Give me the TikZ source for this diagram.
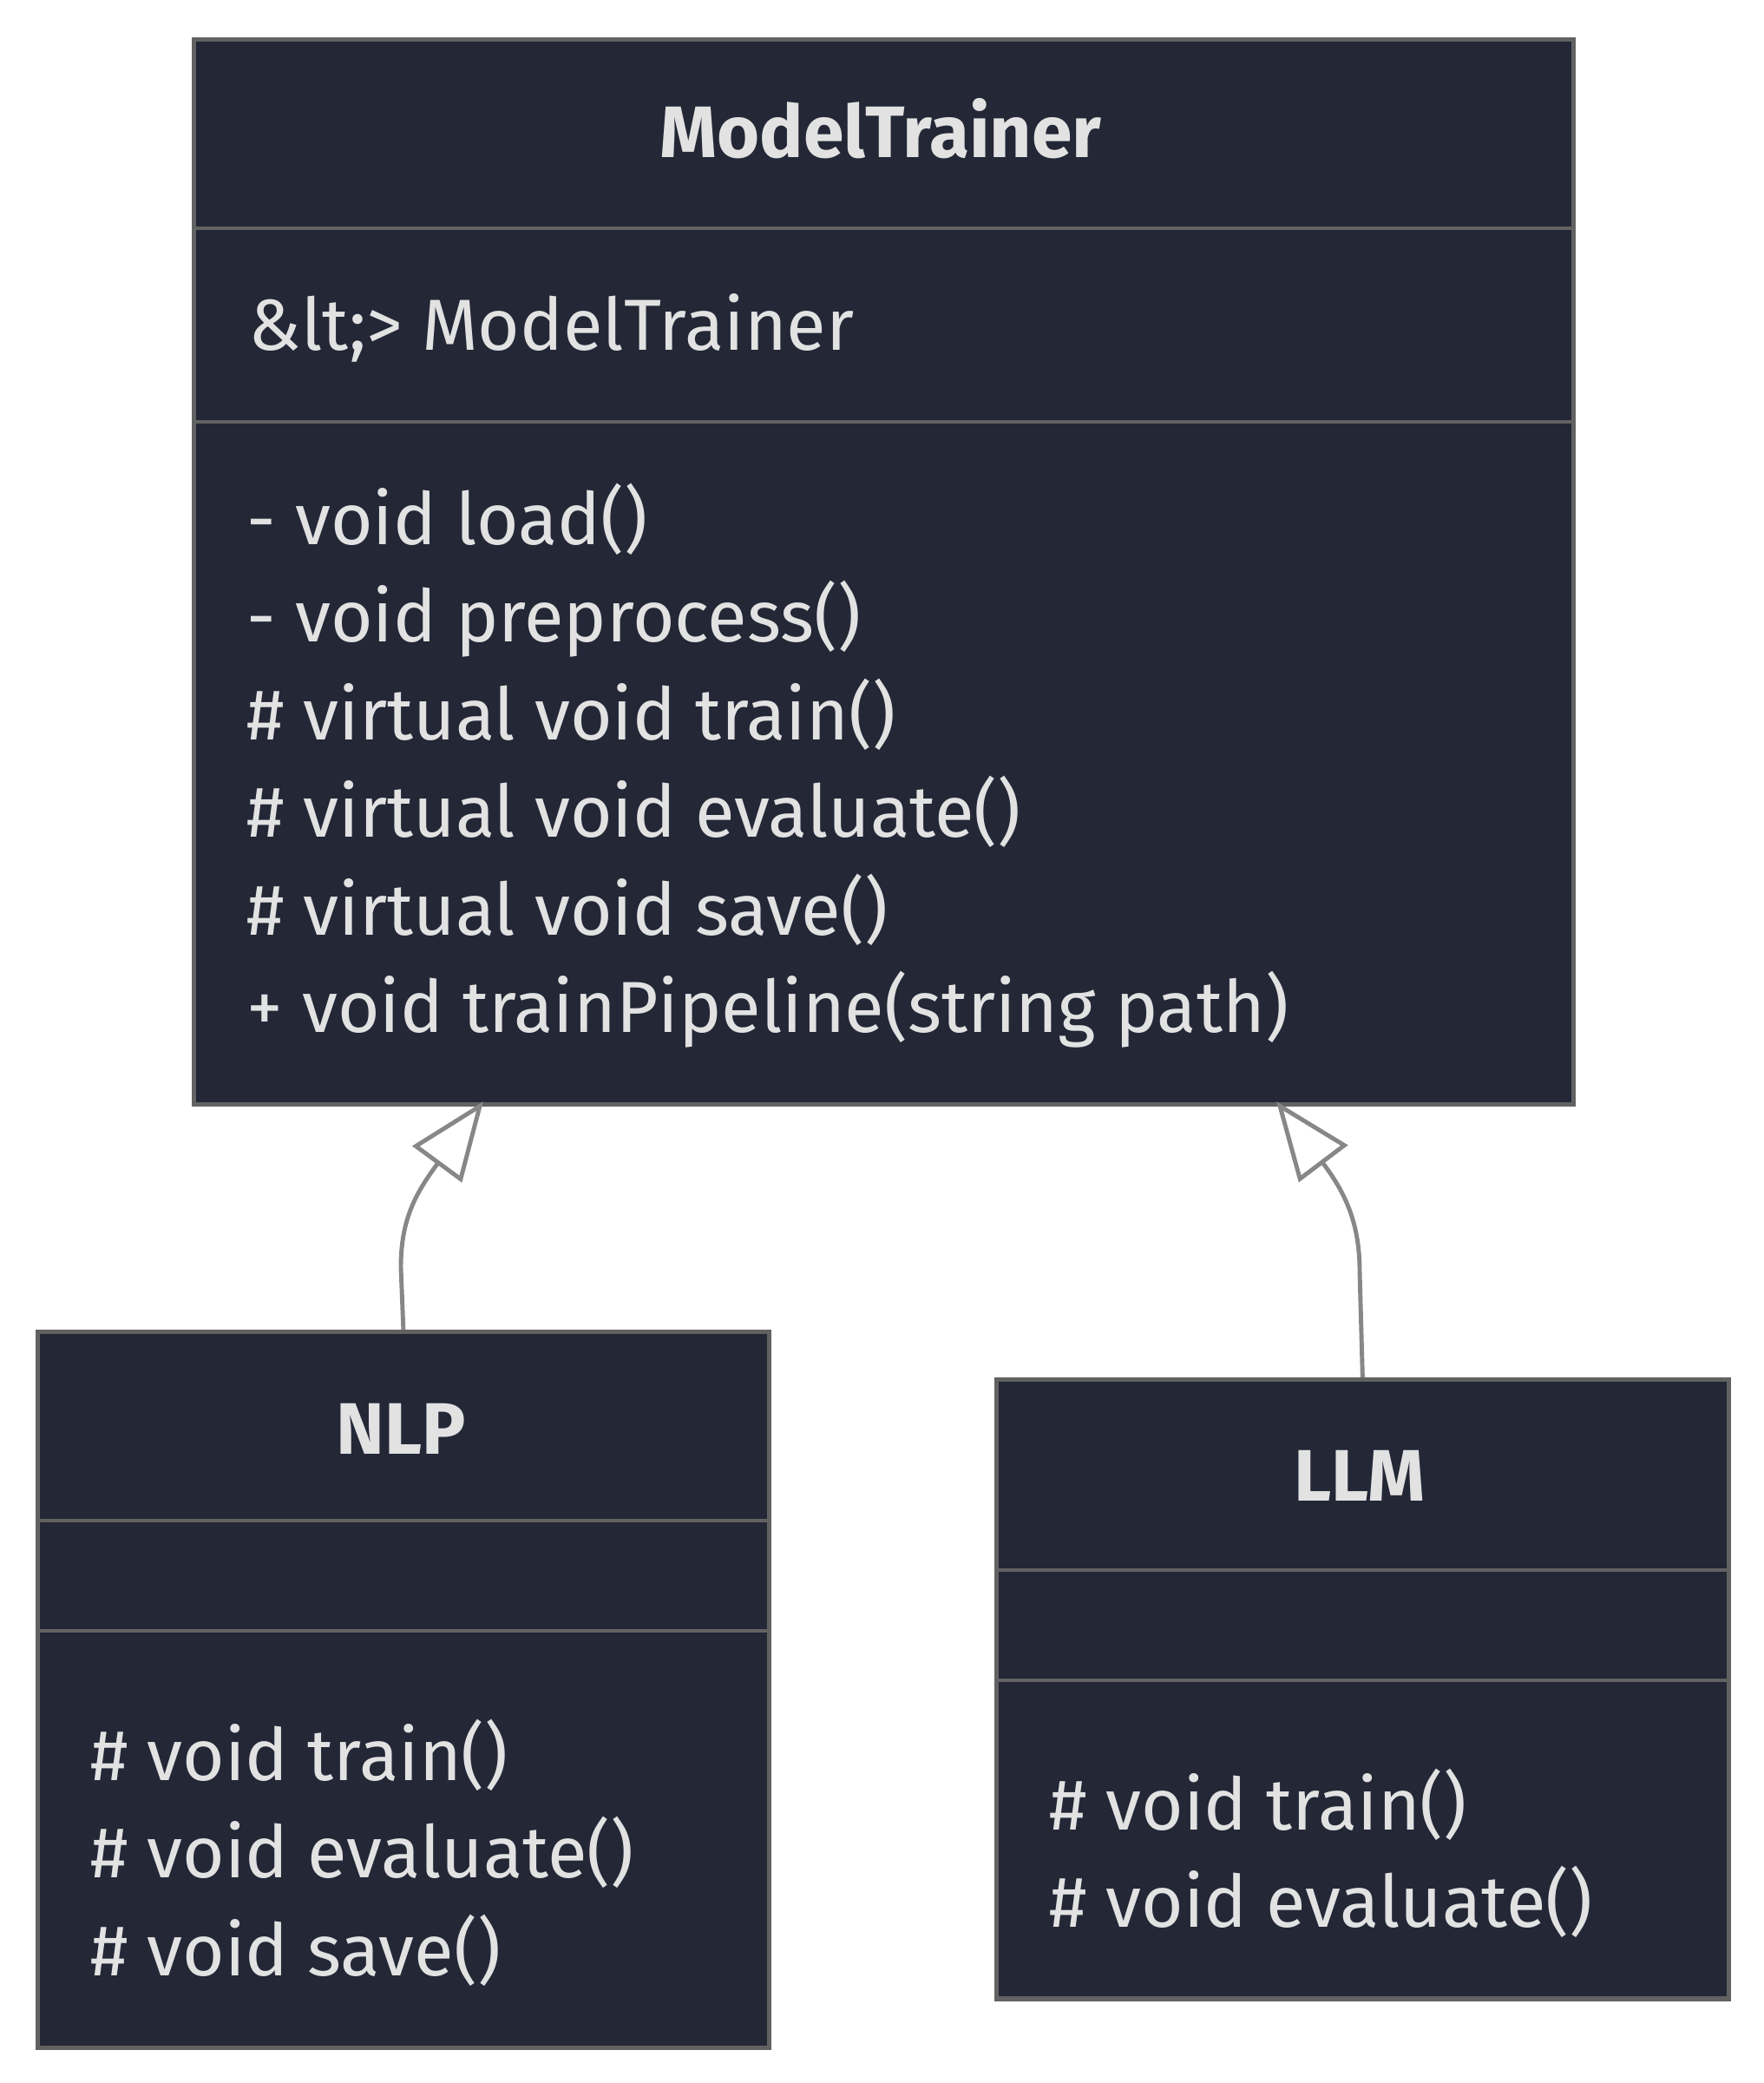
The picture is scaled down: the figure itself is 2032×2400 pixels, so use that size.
\documentclass[tikz,border=0pt]{standalone}
\usepackage{fontspec}
\setmainfont{Fira Sans}
\usetikzlibrary{arrows.meta}
\usetikzlibrary{calc}
\definecolor{boxfill}{HTML}{232736}
\definecolor{boxline}{HTML}{626262}
\definecolor{txt}{HTML}{E2E2E2}
\definecolor{edge}{HTML}{878787}
\tikzset{
  classbox/.style={draw=boxline,fill=boxfill,line width=1.5pt,inner sep=0pt,anchor=north west},
  divider/.style={boxline,line width=1.3pt},
  member/.style={txt,anchor=base west,inner sep=0pt,font=\fontsize{23.7}{28}\selectfont},
  classname/.style={txt,anchor=base,inner sep=0pt,font=\fontsize{23.9}{28}\selectfont\bfseries},
  inherit/.style={edge,line width=1.4pt,-{Triangle[open,length=9mm,width=7mm,line join=miter]}},
}

\begin{document}
\begin{tikzpicture}[x=0.01cm,y=-0.01cm]
	\useasboundingbox (0,0) rectangle (2032,2400);

	\node[classbox,minimum width=15.89cm,minimum height=12.26cm] (trainer) at (221,43) {};
	\node[classbox,minimum width=8.42cm,minimum height=8.24cm] (nlp) at (41,1532) {};
	\node[classbox,minimum width=8.43cm,minimum height=7.13cm] (llm) at (1146,1587) {};

	% compartments
	\draw[divider] ($(trainer.north west)+(0,220)$) -- ($(trainer.north east)+(0,220)$);
	\draw[divider] ($(trainer.north west)+(0,443)$) -- ($(trainer.north east)+(0,443)$);
	\draw[divider] ($(nlp.north west)+(0,220)$) -- ($(nlp.north east)+(0,220)$);
	\draw[divider] ($(nlp.north west)+(0,347)$) -- ($(nlp.north east)+(0,347)$);
	\draw[divider] ($(llm.north west)+(0,222)$) -- ($(llm.north east)+(0,222)$);
	\draw[divider] ($(llm.north west)+(0,349)$) -- ($(llm.north east)+(0,349)$);

	\node[classname] (trainername) at (1015,182) {ModelTrainer};
	\node[member] (trainerattr) at (286,403) {\&lt;> ModelTrainer};
	\foreach \op [count=\i from 0] in {- void load(),- void preprocess(),\# virtual void train(),\# virtual void evaluate(),\# virtual void save(),+ void trainPipeline(string path)}
		\node[member] (trainerop\i) at (284,{627+112.5*\i}) {\op};

	\node[classname] (nlpname) at (462,1675) {NLP};
	\foreach \op [count=\i from 0] in {\# void train(),\# void evaluate(),\# void save()}
		\node[member] (nlpop\i) at (104,{2051+112.5*\i}) {\op};

	\node[classname] (llmname) at (1567,1729) {LLM};
	\foreach \op [count=\i from 0] in {\# void train(),\# void evaluate()}
		\node[member] (llmop\i) at (1209,{2108+112.5*\i}) {\op};

	% inheritance
	\coordinate (nlpend) at (557,1269);
	\coordinate (llmend) at (1471,1269);
	\draw[inherit] (nlp.north) -- (462,1460) .. controls (462,1405) and (479,1375) .. (nlpend);
	\draw[inherit] (llm.north) -- (1567,1465) .. controls (1567,1410) and (1551,1375) .. (llmend);
\end{tikzpicture}
\end{document}
